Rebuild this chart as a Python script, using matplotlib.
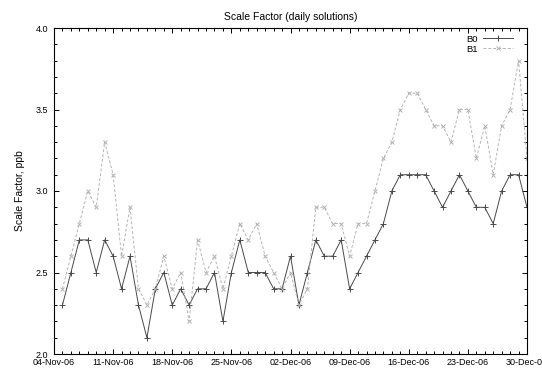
import matplotlib
matplotlib.use("Agg")
import matplotlib.pyplot as plt
import matplotlib.dates as mdates
from matplotlib.ticker import MultipleLocator, FormatStrFormatter, FixedLocator
import datetime as dt

plt.rcParams['font.family'] = ['Liberation Sans', 'DejaVu Sans']

start_date = "2006-11-05"
b0_values = [2.3, 2.5, 2.7, 2.7, 2.5, 2.7, 2.6, 2.4, 2.6, 2.3, 2.1, 2.4, 2.5, 2.3, 2.4, 2.3, 2.4, 2.4, 2.5,
             2.2, 2.5, 2.7, 2.5, 2.5, 2.5, 2.4, 2.4, 2.6, 2.3, 2.5, 2.7, 2.6, 2.6, 2.7, 2.4, 2.5, 2.6, 2.7,
             2.8, 3.0, 3.1, 3.1, 3.1, 3.1, 3.0, 2.9, 3.0, 3.1, 3.0, 2.9, 2.9, 2.8, 3.0, 3.1, 3.1, 2.9]
b1_values = [2.4, 2.6, 2.8, 3.0, 2.9, 3.3, 3.1, 2.6, 2.9, 2.4, 2.3, 2.4, 2.6, 2.4, 2.5, 2.2, 2.7, 2.5, 2.6,
             2.4, 2.6, 2.8, 2.7, 2.8, 2.6, 2.5, 2.4, 2.5, 2.3, 2.4, 2.9, 2.9, 2.8, 2.8, 2.6, 2.8, 2.8, 3.0,
             3.2, 3.3, 3.5, 3.6, 3.6, 3.5, 3.4, 3.4, 3.3, 3.5, 3.5, 3.2, 3.4, 3.1, 3.4, 3.5, 3.8, 3.2]
series_labels = ["B0", "B1"]
x_range = ("2006-11-04", "2006-12-30")
y_range = (2.0, 4.0)

d0 = dt.datetime.strptime(start_date, "%Y-%m-%d")
dates = [d0 + dt.timedelta(days=i) for i in range(len(b0_values))]
xmin = dt.datetime.strptime(x_range[0], "%Y-%m-%d")
xmax = dt.datetime.strptime(x_range[1], "%Y-%m-%d")

fig = plt.figure(figsize=(5.42, 3.70), dpi=100)
ax = fig.add_axes([54/542, 1-354/370, (527-54)/542, (354-28)/370])

ax.plot(dates, b0_values, color='#4a4a4a', lw=0.7, marker='+', ms=4, mew=0.7, label=series_labels[0])
ax.plot(dates, b1_values, color='#b4b4b4', lw=0.7, ls=(0, (3, 2)), marker='x', ms=3.5, mew=0.7,
        label=series_labels[1])

ax.set_xlim(xmin, xmax)
ax.set_ylim(*y_range)

major_days = []
d = xmin
while d <= xmax:
    major_days.append(mdates.date2num(d))
    d += dt.timedelta(days=7)
ax.xaxis.set_major_locator(FixedLocator(major_days))
ax.xaxis.set_minor_locator(mdates.DayLocator())
ax.xaxis.set_major_formatter(mdates.DateFormatter("%d-%b-%y"))
ax.yaxis.set_major_locator(MultipleLocator(0.5))
ax.yaxis.set_minor_locator(MultipleLocator(0.1))
ax.yaxis.set_major_formatter(FormatStrFormatter("%.1f"))

ax.tick_params(which='both', direction='in', top=True, right=True, width=0.7, labelsize=6.5, pad=3)
ax.tick_params(which='major', length=3.6)
ax.tick_params(which='minor', length=2.2)
ax.tick_params(axis='y', pad=4)
for s in ax.spines.values():
    s.set_linewidth(0.8)

ax.set_title("Scale Factor (daily solutions)", fontsize=7.5, pad=6)
ax.set_ylabel("Scale Factor, ppb", fontsize=7.5, labelpad=8)

leg = ax.legend(loc='upper right', frameon=False, markerfirst=False, fontsize=6.8,
                handlelength=3.2, handletextpad=0.6, labelspacing=0.1,
                borderaxespad=0.3, bbox_to_anchor=(0.985, 1.0))

fig.savefig("out.png", dpi=100)
